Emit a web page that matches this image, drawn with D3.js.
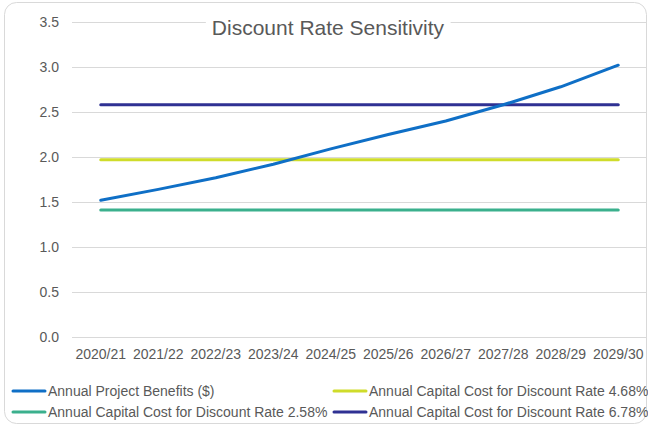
<!DOCTYPE html>
<html>
<head>
<style>
	body { margin: 0; background: white; }
	text { font-family: "Liberation Sans", Arial, sans-serif; fill: #595959; }
	.grid line { stroke: #d9d9d9; stroke-width: 1; }
	.grid path { display: none; }
</style>
</head>
<body>
<svg width="648" height="427"></svg>
<script src="https://cdn.jsdelivr.net/npm/d3@7"></script>
<script>
const width = 648;
const height = 427;

// data
const years = ["2020/21","2021/22","2022/23","2023/24","2024/25","2025/26","2026/27","2027/28","2028/29","2029/30"];
const benefits = [1.52, 1.64, 1.77, 1.92, 2.09, 2.25, 2.40, 2.58, 2.78, 3.02];
const cost468 = [1.97, 1.97, 1.97, 1.97, 1.97, 1.97, 1.97, 1.97, 1.97, 1.97];
const cost258 = [1.41, 1.41, 1.41, 1.41, 1.41, 1.41, 1.41, 1.41, 1.41, 1.41];
const cost678 = [2.58, 2.58, 2.58, 2.58, 2.58, 2.58, 2.58, 2.58, 2.58, 2.58];
const yTicks = [0, 0.5, 1.0, 1.5, 2.0, 2.5, 3.0, 3.5];

const series = [
	{ name: "Annual Project Benefits ($)", values: benefits, color: "#0f6fc6" },
	{ name: "Annual Capital Cost for Discount Rate 4.68%", values: cost468, color: "#cfdc2a" },
	{ name: "Annual Capital Cost for Discount Rate 2.58%", values: cost258, color: "#3bb08d" },
	{ name: "Annual Capital Cost for Discount Rate 6.78%", values: cost678, color: "#2f3193" }
];

var svg = d3.select("svg");

// chart border
svg.append("rect")
	.attr("x", 4.5).attr("y", 2.5)
	.attr("width", 642).attr("height", 421)
	.attr("rx", 12)
	.attr("fill", "white")
	.attr("stroke", "#d9d9d9");

var x = d3.scaleBand().domain(years).range([72, 647]);
var y = d3.scaleLinear().domain([0, 3.5]).range([337, 22]);

// gridlines
svg.append("g")
	.attr("class", "grid")
	.attr("transform", "translate(72,0)")
	.call(d3.axisLeft(y).tickValues(yTicks).tickSize(-575).tickFormat(""));

// y labels
svg.selectAll(".ylab")
	.data(yTicks)
	.enter()
	.append("text")
		.attr("class", "ylab")
		.attr("x", 59)
		.attr("y", d => y(d) + 5)
		.attr("text-anchor", "end")
		.attr("font-size", 14)
		.text(d => d.toFixed(1));

// x labels
svg.selectAll(".xlab")
	.data(years)
	.enter()
	.append("text")
		.attr("class", "xlab")
		.attr("x", d => x(d) + x.bandwidth() / 2)
		.attr("y", 359)
		.attr("text-anchor", "middle")
		.attr("font-size", 14)
		.text(d => d);

var line = d3.line()
	.x((d, i) => x(years[i]) + x.bandwidth() / 2)
	.y(d => y(d));

// draw in order so the benefits line sits on top
[series[2], series[1], series[3], series[0]].forEach(function(s) {
	svg.append("path")
		.datum(s.values)
		.attr("fill", "none")
		.attr("stroke", s.color)
		.attr("stroke-width", 3)
		.attr("stroke-linecap", "round")
		.attr("stroke-linejoin", "round")
		.attr("d", line);
});

// title with white backing over the top gridline
var titleBg = svg.append("rect").attr("fill", "white");
var title = svg.append("text")
	.attr("x", 328)
	.attr("y", 35)
	.attr("text-anchor", "middle")
	.attr("font-size", 21)
	.text("Discount Rate Sensitivity");
var bb = title.node().getBBox();
titleBg
	.attr("x", bb.x - 6).attr("y", bb.y)
	.attr("width", bb.width + 12).attr("height", bb.height);

// legend
var legendPos = [[13, 391], [334, 391], [13, 412], [334, 412]];
series.forEach(function(s, i) {
	var p = legendPos[i];
	var g = svg.append("g").attr("transform", "translate(" + p[0] + "," + p[1] + ")");
	g.append("line")
		.attr("x1", 0).attr("x2", 32)
		.attr("y1", 0).attr("y2", 0)
		.attr("stroke", s.color)
		.attr("stroke-width", 3)
		.attr("stroke-linecap", "round");
	g.append("text")
		.attr("x", 35)
		.attr("y", 5)
		.attr("font-size", 14)
		.text(s.name);
});
</script>
</body>
</html>
